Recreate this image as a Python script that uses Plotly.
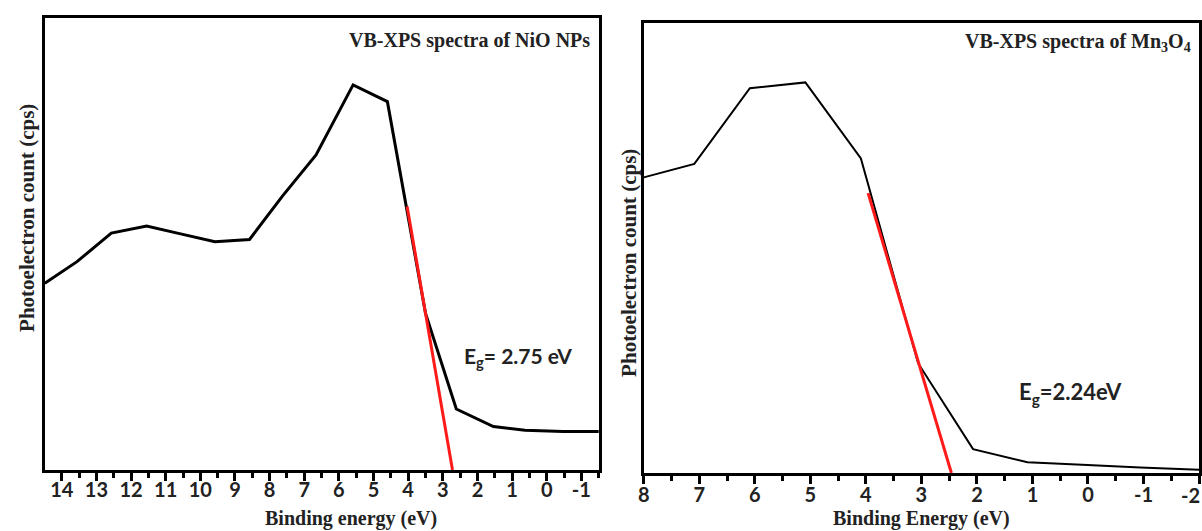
import plotly.graph_objects as go

# ---- NiO NPs (left panel) ----
nio_energy = [14.49, 13.56, 12.57, 11.55, 10.6, 9.58, 8.58, 7.63, 6.66, 5.59, 4.60, 3.50, 2.61, 1.54, 0.63, -0.47, -1.5]
nio_counts = [41.3, 46.1, 52.4, 54.0, 52.3, 50.5, 51.0, 60.6, 69.7, 85.2, 81.5, 34.7, 13.5, 9.6, 8.8, 8.5, 8.5]
nio_fit_energy = [4.03, 2.72]
nio_fit_counts = [58.3, 0.0]

# ---- Mn3O4 (right panel) ----
mn_energy = [8.0, 7.09, 6.09, 5.09, 4.09, 3.06, 2.07, 1.09, 0.01, -0.94, -2.0]
mn_counts = [65.7, 68.7, 85.5, 86.8, 69.9, 24.4, 5.3, 2.4, 1.8, 1.2, 0.7]
mn_fit_energy = [3.96, 2.46]
mn_fit_counts = [62.2, 0.0]

nio_ticks = [14, 13, 12, 11, 10, 9, 8, 7, 6, 5, 4, 3, 2, 1, 0, -1]
nio_ticklabels = ["14", "13", "12", "11", "10", "9", "8", "7", "6", "5", "4", "3", "2", "1", "0", "-1"]
mn_ticks = [8, 7, 6, 5, 4, 3, 2, 1, 0, -1]
mn_ticklabels = ["8", "7", "6", "5", "4", "3", "2", "1", "0", "-1"]
mn_edge_tick = -2
mn_edge_label = "-2"

W, H = 1202, 531

fig = go.Figure()
fig.add_trace(go.Scatter(x=nio_energy, y=nio_counts, mode="lines",
                         line=dict(color="black", width=3), xaxis="x", yaxis="y"))
fig.add_trace(go.Scatter(x=nio_fit_energy, y=nio_fit_counts, mode="lines",
                         line=dict(color="#ff1a1a", width=3), xaxis="x", yaxis="y"))
fig.add_trace(go.Scatter(x=mn_energy, y=mn_counts, mode="lines",
                         line=dict(color="black", width=2), xaxis="x2", yaxis="y2"))
fig.add_trace(go.Scatter(x=mn_fit_energy, y=mn_fit_counts, mode="lines",
                         line=dict(color="#ff1a1a", width=3), xaxis="x2", yaxis="y2"))

tickfont = dict(family="Lato", size=20, color="#222", weight="bold")

def xaxis_cfg(domain, rng, tv, tt, standoff):
    return dict(domain=domain, range=rng, tickvals=tv, ticktext=tt,
                showline=True, mirror=True, linecolor="black", linewidth=3,
                ticks="outside", ticklen=8, tickwidth=3, tickcolor="black",
                minor=dict(ticks="outside", ticklen=5, tickwidth=2.5, tickcolor="black", dtick=0.5,
                           tick0=0),
                showgrid=False, zeroline=False, tickfont=tickfont, ticklabelstandoff=standoff)

def yaxis_cfg(domain, anchor):
    return dict(domain=domain, range=[0, 100], anchor=anchor,
                showline=True, mirror=True, linecolor="black", linewidth=3,
                showticklabels=False, ticks="", showgrid=False, zeroline=False)

fig.update_layout(
    width=W, height=H,
    margin=dict(l=0, r=0, t=0, b=0),
    paper_bgcolor="white", plot_bgcolor="white",
    showlegend=False,
    xaxis=xaxis_cfg([39 / W, 596 / W], [14.49, -1.51], nio_ticks, nio_ticklabels, -8) | dict(anchor="y"),
    yaxis=yaxis_cfg([(H - 470) / H, (H - 18) / H], "x"),
    xaxis2=xaxis_cfg([641 / W, 1199 / W], [8, -2], mn_ticks + [mn_edge_tick], mn_ticklabels + [""], -6) | dict(anchor="y2"),
    yaxis2=yaxis_cfg([(H - 473) / H, (H - 23) / H], "x2"),
)

serif = dict(family="Liberation Serif", color="#222", weight="bold")
sans = dict(family="Lato", color="#222", weight="bold")
ann = [
    dict(text="VB-XPS spectra of NiO NPs", x=589, y=40, xanchor="right", font=serif | dict(size=20)),
    dict(text="VB-XPS spectra of Mn<sub>3</sub>O<sub>4</sub>", x=1193, y=42, xanchor="right", font=serif | dict(size=20)),
    dict(text="Binding energy (eV)", x=347, y=518, xanchor="center", font=serif | dict(size=20)),
    dict(text="Binding Energy (eV)", x=920, y=518, xanchor="center", font=serif | dict(size=20)),
    dict(text="Photoelectron count (cps)", x=21, y=218, xanchor="center", textangle=-90, font=serif | dict(size=21)),
    dict(text="Photoelectron count (cps)", x=626, y=263, xanchor="center", textangle=-90, font=serif | dict(size=21)),
    dict(text="E<sub>g</sub>= 2.75 eV", x=458, y=357, xanchor="left", font=sans | dict(size=21)),
    dict(text="E<sub>g</sub>=2.24eV", x=1016, y=393, xanchor="left", font=sans | dict(size=22)),
]
for a in ann:
    a.update(xref="paper", yref="paper", showarrow=False, yanchor="middle")
    a["x"] = a["x"] / W
    a["y"] = 1 - a["y"] / H
# edge tick label of the right panel (would be clipped by the page edge)
ann.append(dict(text=mn_edge_label, x=mn_edge_tick, xref="x2", y=(H - 495) / H, yref="paper",
                xanchor="right", yanchor="middle", showarrow=False, font=tickfont, xshift=3))
fig.update_layout(annotations=ann)

fig.write_html("out.html")
